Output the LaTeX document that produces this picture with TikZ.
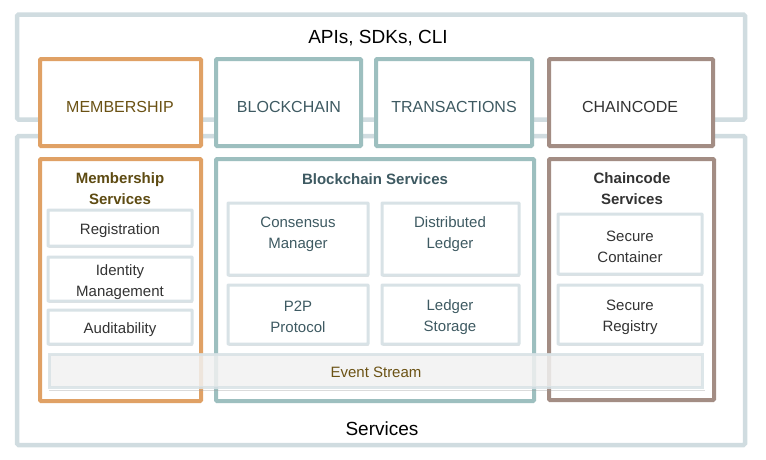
\documentclass[tikz,border=0pt]{standalone}
\usepackage{fontspec}
\setmainfont{Liberation Sans}
\usetikzlibrary{shadows}
\definecolor{frameLight}{HTML}{D0DCE0}
\definecolor{innerLight}{HTML}{D8E2E6}
\definecolor{orangeC}{HTML}{E0A165}
\definecolor{tealC}{HTML}{9DBFBF}
\definecolor{brownC}{HTML}{A38D84}
\definecolor{oliveT}{HTML}{6B5214}
\definecolor{oliveB}{HTML}{5E4B12}
\definecolor{slateT}{HTML}{3E5A62}
\definecolor{darkT}{HTML}{333333}
\definecolor{streamFill}{HTML}{F1F1F1}
\tikzset{
  shad/.style={drop shadow={shadow xshift=0.8pt, shadow yshift=-1.6pt, opacity=.3, fill=black!60}},
  outerbox/.style={draw=frameLight, line width=4.5pt, fill=white, rounded corners=1.5pt, inner sep=0pt, shad},
  catbox/.style={draw=#1, line width=4pt, fill=white, rounded corners=1pt, inner sep=0pt, shad},
  innerbox/.style={draw=innerLight, line width=3pt, fill=white, rounded corners=0.5pt, inner sep=0pt, shad},
  streambox/.style={draw=innerLight, line width=3pt, fill=streamFill, fill opacity=.85, draw opacity=.85, inner sep=0pt},
  bigtxt/.style={font=\fontsize{19}{23}\selectfont, text=black, inner sep=0pt},
  captxt/.style={font=\fontsize{16}{20}\selectfont, inner sep=0pt},
  titletxt/.style={font=\fontsize{15}{21}\selectfont\bfseries, align=center, inner sep=0pt},
  bodytxt/.style={font=\fontsize{15}{21}\selectfont, align=center, inner sep=0pt},
}
\begin{document}
\begin{tikzpicture}[x=1pt,y=-1pt]
\useasboundingbox (0,0) rectangle (766,459);
% outer frames
\node[outerbox, minimum width=728pt, minimum height=105pt] (api) at (381,67) {};
\node[outerbox, minimum width=728pt, minimum height=309pt] (svc) at (381,290.5) {};
% top row
\node[catbox=orangeC, minimum width=161pt, minimum height=87pt] (mem) at (120.5,102.5) {};
\node[catbox=tealC, minimum width=145pt, minimum height=87pt] (blk) at (288.5,102.5) {};
\node[catbox=tealC, minimum width=156pt, minimum height=87pt] (trx) at (454,102.5) {};
\node[catbox=brownC, minimum width=164pt, minimum height=87pt] (cc) at (631,102.5) {};
% service groups
\node[catbox=orangeC, minimum width=161pt, minimum height=242pt] (memS) at (120.5,280) {};
\node[catbox=tealC, minimum width=318pt, minimum height=242pt] (blkS) at (375,280) {};
\node[catbox=brownC, minimum width=165pt, minimum height=241pt] (ccS) at (631.5,279.5) {};
% inner boxes
\node[innerbox, minimum width=144pt, minimum height=36pt] (reg) at (120,228) {};
\node[innerbox, minimum width=144pt, minimum height=44pt] (idm) at (120,279) {};
\node[innerbox, minimum width=144pt, minimum height=34pt] (aud) at (120,327) {};
\node[innerbox, minimum width=140pt, minimum height=72pt] (con) at (298,239) {};
\node[innerbox, minimum width=137pt, minimum height=72pt] (dl) at (450.5,239) {};
\node[innerbox, minimum width=140pt, minimum height=59pt] (p2p) at (298,314.5) {};
\node[innerbox, minimum width=137pt, minimum height=59pt] (ls) at (450.5,314.5) {};
\node[innerbox, minimum width=144pt, minimum height=60pt] (sc) at (630,244) {};
\node[innerbox, minimum width=144pt, minimum height=59pt] (sr) at (630,314.5) {};
\node[streambox, minimum width=653pt, minimum height=33pt] (evs) at (375.5,370.5) {};
\draw[black!40, opacity=.35, line width=1.2pt] ([xshift=1pt,yshift=-2.2pt]evs.south west) -- ([xshift=1pt,yshift=-2.2pt]evs.south east);
% texts
\node[bigtxt] (tapi) at (378,38) {APIs, SDKs, CLI};
\node[bigtxt] (tsvc) at (382,429) {Services};
\node[captxt, text=oliveT] (tmem) at (120,107) {MEMBERSHIP};
\node[captxt, text=slateT] (tblk) at (289,107) {BLOCKCHAIN};
\node[captxt, text=slateT] (ttrx) at (454,107) {TRANSACTIONS};
\node[captxt, text=darkT] (tcc) at (630,107) {CHAINCODE};
\node[titletxt, text=oliveB] (tmemS) at (120,189) {Membership\\Services};
\node[titletxt, text=slateT] (tblkS) at (375,179) {Blockchain Services};
\node[titletxt, text=darkT] (tccS) at (632,189) {Chaincode\\Services};
\node[bodytxt, text=darkT] (treg) at (120,231) {Registration};
\node[bodytxt, text=darkT] (tidm) at (120,282) {Identity\\Management};
\node[bodytxt, text=darkT] (taud) at (120,330) {Auditability};
\node[bodytxt, text=slateT] (tcon) at (298,234) {Consensus\\Manager};
\node[bodytxt, text=slateT] (tdl) at (450,234) {Distributed\\Ledger};
\node[bodytxt, text=slateT] (tp2p) at (298,317) {P2P\\Protocol};
\node[bodytxt, text=slateT] (tls) at (450,317) {Ledger\\Storage};
\node[bodytxt, text=darkT] (tsc) at (630,246.5) {Secure\\Container};
\node[bodytxt, text=darkT] (tsr) at (630,317) {Secure\\Registry};
\node[bodytxt, text=oliveT] (tevs) at (376,372) {Event Stream};
\end{tikzpicture}
\end{document}
